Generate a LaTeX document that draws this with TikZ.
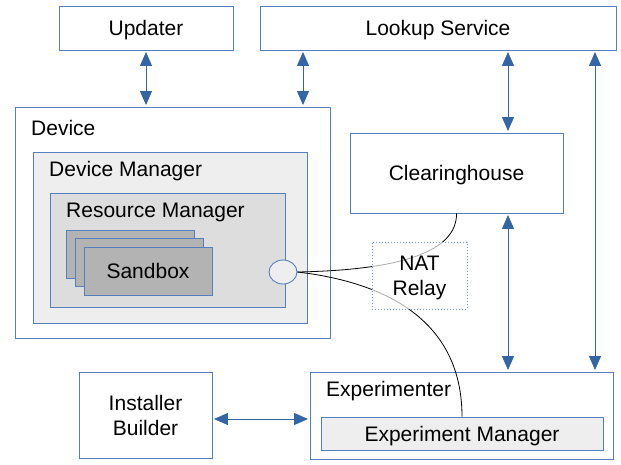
\documentclass[tikz,border=0pt]{standalone}
\usepackage{fontspec}
\setmainfont{Liberation Sans}
\usetikzlibrary{arrows.meta,shapes.geometric}

\begin{document}
\begin{tikzpicture}[x=1pt,y=-1pt,
  box/.style={draw=edgeblue,line width=0.9pt,rectangle,inner sep=0,text depth=0pt},
  title/.style={anchor=west,inner sep=0},
  link/.style={draw=arrowblue,line width=1pt,shorten <=1.5pt,shorten >=1.5pt,
    {Triangle[length=14pt,width=12pt]}-{Triangle[length=14pt,width=12pt]}},
  wire/.style={draw=black,line width=0.8pt},
  font=\fontsize{21}{25}\selectfont]
\definecolor{edgeblue}{HTML}{5580BD}
\definecolor{arrowblue}{HTML}{3465A4}
\definecolor{lightgrey}{HTML}{EEEEEE}
\definecolor{midgrey}{HTML}{DDDDDD}
\definecolor{darkgrey}{HTML}{B3B3B3}
\useasboundingbox (0,0) rectangle (621,464);

\node[box,minimum width=174,minimum height=44] (updater) at (146,28) {Updater};
\node[box,minimum width=356,minimum height=44] (lookup) at (438,28) {Lookup Service};

\node[box,minimum width=315,minimum height=231] (device) at (172.5,222.5) {};
\node[title] (devicelbl) at (31,128) {Device};
\node[box,fill=lightgrey,minimum width=274,minimum height=171] (devmgr) at (170,237.5) {};
\node[title] (devmgrlbl) at (49,171) {Device Manager};
\node[box,fill=midgrey,minimum width=235,minimum height=114] (resmgr) at (167.5,250) {};
\node[title] (resmgrlbl) at (66,212) {Resource Manager};
\foreach \sb/\off in {sbback/0,sbmid/1,sbfront/2}
  {\node[box,fill=darkgrey,minimum width=128,minimum height=48] (\sb) at (130+9*\off,254+8.5*\off) {};}
\node[text depth=0pt] (sandbox) at (sbfront) {Sandbox};
\node[box,ellipse,fill=lightgrey,minimum width=28,minimum height=24] (port) at (283,272) {};

\node[box,minimum width=213,minimum height=80] (clear) at (456.5,173) {Clearinghouse};

\node[box,minimum width=303,minimum height=87] (exp) at (461.5,415.5) {};
\node[title] (explbl) at (326,391) {Experimenter};
\node[box,fill=lightgrey,minimum width=282,minimum height=33] (expmgr) at (462,433.5) {Experiment Manager};

\node[box,minimum width=133,minimum height=86,align=center] (installer) at (145.5,415) {Installer\\Builder};

\draw[wire] (port.east) .. controls (400,270) and (457,252) .. (clear.south);
\draw[wire] (port.east) .. controls (400,284) and (462,330) .. (expmgr.north);
\node[draw=edgeblue!80,dotted,line width=1pt,fill=white,fill opacity=0.68,text opacity=1,text depth=0pt,
  minimum width=95,minimum height=67,align=center] (nat) at (419.5,275.5) {NAT\\Relay};

\draw[link] (updater.south) -- (updater.south |- device.north);
\draw[link] (lookup.south -| 303,0) -- (device.north -| 303,0);
\draw[link] (lookup.south -| 508,0) -- (clear.north -| 508,0);
\draw[link] (clear.south -| 508,0) -- (exp.north -| 508,0);
\draw[link] (lookup.south -| 595,0) -- (exp.north -| 595,0);
\draw[link] (installer.east |- 0,419) -- (exp.west |- 0,419);
\end{tikzpicture}
\end{document}
